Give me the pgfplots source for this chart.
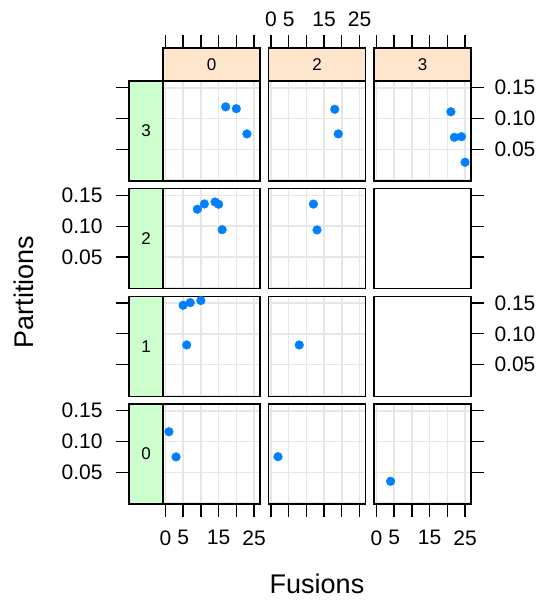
\documentclass[border=0pt]{standalone}
\usepackage{pgfplots}
\pgfplotsset{compat=1.18}
\usepackage{fontspec}
\setmainfont{Liberation Sans}

\definecolor{ptblue}{HTML}{0080FF}
\definecolor{gridgray}{HTML}{E6E6E6}
\definecolor{stripA}{HTML}{FFE5CC}
\definecolor{stripB}{HTML}{CCFFCC}

\pgfplotsset{
  panel/.style={scale only axis, width=97bp, height=100bp, anchor=south west,
    xmin=-0.68, xmax=26.68, ymin=-0.0015, ymax=0.161,
    xtick={0,5,...,25}, ytick={0,0.05,0.10,0.15},
    xticklabels={,,,,,}, yticklabels={,,,}, major tick length=0pt,
    grid=major, grid style={gridgray, line width=1.5bp},
    axis line style={line width=1.4bp}},
  dots/.style={only marks, mark=*, mark size=4.4bp, color=ptblue,
    mark options={draw=ptblue, fill=ptblue, line width=0.3bp}},
  yruler/.style={scale only axis, width=342bp, height=100bp, anchor=south west,
    xmin=0, xmax=1, ymin=-0.0015, ymax=0.161, separate axis lines,
    axis line style={draw=none}, xtick=\empty,
    ytick={0.05,0.10,0.15}, yticklabels={0.05,0.10,0.15},
    tick align=outside, major tick length=13bp,
    tick style={black, line width=1.3bp},
    tick label style={font=\fontsize{21bp}{25bp}\selectfont}},
  xruler/.style={scale only axis, width=97bp, height=456bp, anchor=south west,
    xmin=-0.68, xmax=26.68, ymin=0, ymax=1, separate axis lines,
    axis line style={draw=none}, ytick=\empty,
    xtick={0,5,...,25}, xticklabels={0,5,,15,,25},
    tick align=outside, major tick length=13bp,
    tick style={black, line width=1.3bp},
    tick label style={font=\fontsize{21bp}{25bp}\selectfont}},
  leftlab/.style={yticklabel pos=left, yticklabel style={xshift=-10bp}},
  rightlab/.style={yticklabel pos=right, yticklabel style={xshift=7bp}},
  botlab/.style={xticklabel pos=left, xticklabel style={yshift=-10bp}},
  toplab/.style={xticklabel pos=right, xticklabel style={yshift=5bp}},
}

\begin{document}
\begin{tikzpicture}
\useasboundingbox (0,0) rectangle (546bp,601bp);

% tick rulers outside the strips
\begin{axis}[yruler, at={(129bp,420bp)}, rightlab]\end{axis}
\begin{axis}[yruler, at={(129bp,312.3bp)}, leftlab]\end{axis}
\begin{axis}[yruler, at={(129bp,204.7bp)}, rightlab]\end{axis}
\begin{axis}[yruler, at={(129bp,97bp)}, leftlab]\end{axis}
\begin{axis}[xruler, at={(163bp,97bp)}, botlab]\end{axis}
\begin{axis}[xruler, at={(268.5bp,97bp)}, toplab]\end{axis}
\begin{axis}[xruler, at={(374bp,97bp)}, botlab]\end{axis}

% row 3
\begin{axis}[panel, at={(163bp,420bp)}]
\addplot[dots] coordinates {(17,0.119)(20,0.116)(23,0.075)};
\end{axis}
\begin{axis}[panel, at={(268.5bp,420bp)}]
\addplot[dots] coordinates {(18,0.115)(19,0.075)};
\end{axis}
\begin{axis}[panel, at={(374bp,420bp)}]
\addplot[dots] coordinates {(21,0.111)(22,0.0695)(24,0.0705)(25,0.029)};
\end{axis}

% row 2
\begin{axis}[panel, at={(163bp,312.3bp)}]
\addplot[dots] coordinates {(9,0.1276)(11,0.1362)(14,0.1394)(15,0.1357)(16,0.0944)};
\end{axis}
\begin{axis}[panel, at={(268.5bp,312.3bp)}]
\addplot[dots] coordinates {(12,0.136)(13,0.094)};
\end{axis}
\begin{axis}[panel, at={(374bp,312.3bp)}, grid=none]
\end{axis}

% row 1
\begin{axis}[panel, at={(163bp,204.7bp)}]
\addplot[dots] coordinates {(5,0.1464)(7,0.1507)(10,0.154)(6,0.0819)};
\end{axis}
\begin{axis}[panel, at={(268.5bp,204.7bp)}]
\addplot[dots] coordinates {(8,0.0819)};
\end{axis}
\begin{axis}[panel, at={(374bp,204.7bp)}, grid=none]
\end{axis}

% row 0
\begin{axis}[panel, at={(163bp,97bp)}]
\addplot[dots] coordinates {(1,0.116)(3,0.075)};
\end{axis}
\begin{axis}[panel, at={(268.5bp,97bp)}]
\addplot[dots] coordinates {(2,0.0754)};
\end{axis}
\begin{axis}[panel, at={(374bp,97bp)}]
\addplot[dots] coordinates {(4,0.0354)};
\end{axis}

% strips
\begin{scope}[line width=1.4bp, font=\fontsize{17bp}{20bp}\selectfont]
\filldraw[fill=stripA] (163bp,520bp) rectangle node{0} (260bp,553bp);
\filldraw[fill=stripA] (268.5bp,520bp) rectangle node{2} (365.5bp,553bp);
\filldraw[fill=stripA] (374bp,520bp) rectangle node{3} (471bp,553bp);
\filldraw[fill=stripB] (129bp,420bp) rectangle node{3} (163bp,520bp);
\filldraw[fill=stripB] (129bp,312.3bp) rectangle node{2} (163bp,412.3bp);
\filldraw[fill=stripB] (129bp,204.7bp) rectangle node{1} (163bp,304.7bp);
\filldraw[fill=stripB] (129bp,97bp) rectangle node{0} (163bp,197bp);
\end{scope}

\node[anchor=base, font=\fontsize{27bp}{32bp}\selectfont] at (317bp,8bp) {Fusions};
\node[anchor=base, rotate=90, font=\fontsize{27bp}{32bp}\selectfont] at (33bp,309bp) {Partitions};
\end{tikzpicture}
\end{document}
